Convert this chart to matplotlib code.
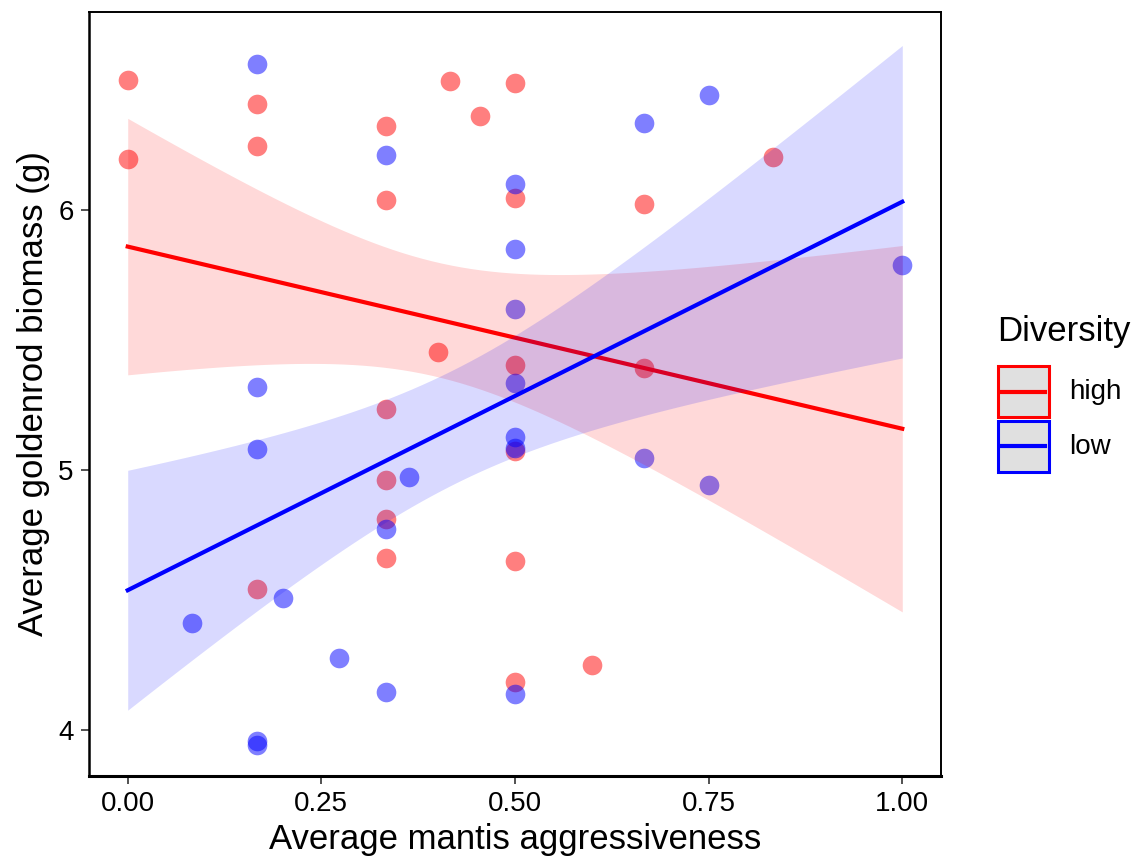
import numpy as np
import matplotlib
matplotlib.use("Agg")
import matplotlib.pyplot as plt
from matplotlib.patches import Rectangle
from matplotlib.lines import Line2D

plt.rcParams['font.family'] = ['Liberation Sans', 'DejaVu Sans']

# data
high_x = [0, 0, 1/6, 1/6, 1/6, 1/3, 1/3, 1/3, 1/3, 1/3, 1/3, 0.4, 5/12, 5/11,
          0.5, 0.5, 0.5, 0.5, 0.5, 0.5, 0.6, 2/3, 2/3, 5/6]
high_y = [6.502, 6.197, 6.41, 6.248, 4.541, 6.325, 6.04, 5.235, 4.96, 4.812, 4.66,
          5.452, 6.496, 6.361, 6.488, 6.046, 5.404, 5.073, 4.647, 4.182, 4.247,
          6.022, 5.391, 6.203]
low_x = [1/12, 1/6, 1/6, 1/6, 1/6, 1/6, 0.2, 3/11, 1/3, 1/3, 1/3, 4/11,
         0.5, 0.5, 0.5, 0.5, 0.5, 0.5, 0.5, 2/3, 2/3, 0.75, 0.75, 1.0]
low_y = [4.412, 6.563, 5.318, 5.080, 3.957, 3.942, 4.506, 4.277, 6.213, 4.771, 4.146,
         4.973, 6.099, 5.852, 5.62, 5.335, 5.128, 5.084, 4.137, 6.336, 5.044,
         6.442, 4.94, 5.787]

groups = [("high", high_x, high_y, "red"), ("low", low_x, low_y, "blue")]

BAND_TS = 1.08

fig = plt.figure(figsize=(11.37, 8.63), dpi=100)
ax = fig.add_axes([89/1137, 1 - 776/863, (941 - 89)/1137, (776 - 12)/863])

for name, gx, gy, col in groups:
    ax.scatter(gx, gy, s=200, color=col, alpha=0.5, linewidths=0, zorder=1)

for name, gx, gy, col in groups:
    x = np.array(gx)
    y = np.array(gy)
    n = len(x)
    b, a = np.polyfit(x, y, 1)
    sxx = np.sum((x - x.mean()) ** 2)
    xs = np.linspace(0, 1, 80)
    fit = a + b * xs
    half = BAND_TS * np.sqrt(1 / n + (xs - x.mean()) ** 2 / sxx)
    ax.fill_between(xs, fit - half, fit + half, color=col, alpha=0.15,
                    linewidth=0, zorder=2)
    ax.plot(xs, fit, color=col, lw=3, zorder=2)

ax.set_xlim(-0.05, 1.05)
ax.set_ylim(3.821, 6.763)
ax.set_xticks([0, 0.25, 0.5, 0.75, 1.0])
ax.set_xticklabels(["0.00", "0.25", "0.50", "0.75", "1.00"])
ax.set_yticks([4, 5, 6])
ax.tick_params(labelsize=20, length=6, width=1.2, color="#333333", labelcolor="black", pad=5)
for sp in ax.spines.values():
    sp.set_linewidth(1.4)
ax.spines['bottom'].set_linewidth(2.2)
ax.spines['left'].set_linewidth(1.8)
ax.set_xlabel("Average mantis aggressiveness", fontsize=25, labelpad=4)
ax.set_ylabel("Average goldenrod biomass (g)", fontsize=25, labelpad=6)

# legend drawn by hand in pixel positions
def fx(px):
    return px / 1137

def fy(py):
    return 1 - py / 863

fig.text(fx(997), fy(331), "Diversity", fontsize=25, va="center", ha="left")
for i, (name, gx, gy, col) in enumerate(groups):
    top = 366 + i * 55
    fig.add_artist(Rectangle((fx(998), fy(top + 51)), 51 / 1137, 51 / 863,
                             transform=fig.transFigure, facecolor="#e0e0e0",
                             edgecolor=col, lw=2.2))
    fig.add_artist(Line2D([fx(1002), fx(1045)], [fy(top + 25.5)] * 2,
                          transform=fig.transFigure, color=col, lw=3))
    fig.text(fx(1069), fy(top + 26), name, fontsize=20, va="center", ha="left")

fig.savefig("out.png", dpi=100)
